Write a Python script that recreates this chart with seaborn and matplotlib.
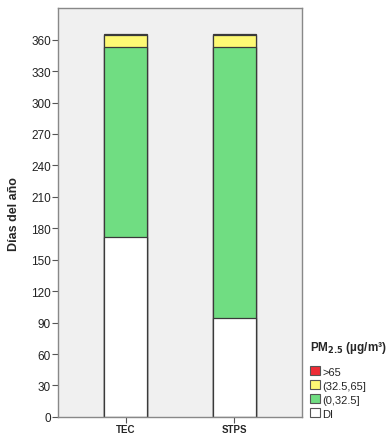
import matplotlib
matplotlib.use("Agg")
import matplotlib.pyplot as plt
import matplotlib.patches as mpatches
import numpy as np
import pandas as pd
import seaborn as sns

stations = ["TEC", "STPS"]
categories = ["DI", "(0,32.5]", "(32.5,65]", ">65"]
di = [172, 94]
low = [181, 259]
mid = [11, 11]
high = [1, 1]
colors = {"DI": "#ffffff", "(0,32.5]": "#70dd82", "(32.5,65]": "#fdf974", ">65": "#ee2c36"}

sns.set_style("white")
plt.rcParams["font.family"] = ["Liberation Sans", "DejaVu Sans"]

layers = np.array([di, low, mid, high])
tops = np.cumsum(layers, axis=0)

fig = plt.figure(figsize=(3.92, 4.39), dpi=100)
ax = fig.add_axes([0.148, 0.048, 0.622, 0.931])
ax.set_facecolor("#f0f0f0")

# draw from the tallest layer down so each one covers the one above
for i in reversed(range(len(categories))):
    df = pd.DataFrame({"station": stations, "days": tops[i]})
    sns.barplot(data=df, x="station", y="days", color=colors[categories[i]],
                width=0.4, edgecolor="#3a3a3a", linewidth=0.9, saturation=1,
                ax=ax, errorbar=None)

ax.set_ylim(0, 390)
ax.set_xlim(-0.62, 1.62)
ax.set_yticks(range(0, 361, 30))
ax.set_xlabel("")
ax.set_ylabel("Días del año", fontsize=9, fontweight="bold", labelpad=8)
ax.tick_params(axis="y", left=True, length=4, width=0.8, color="#555555",
               labelsize=8.5, pad=1, labelcolor="#222222")
ax.tick_params(axis="x", bottom=True, length=4, width=0.8, color="#555555",
               labelsize=7, pad=1)
for lab in ax.get_xticklabels():
    lab.set_fontweight("bold")
for s in ax.spines.values():
    s.set_color("#888888")
    s.set_linewidth(1.0)

handles = [mpatches.Patch(facecolor=colors[c], edgecolor="#555555", linewidth=0.8, label=c)
           for c in reversed(categories)]
leg = fig.legend(handles=handles, title=r"PM$_{\bf 2.5}$ (µg/m³)", loc="upper left",
                 bbox_to_anchor=(0.772, 0.243), frameon=False, fontsize=8,
                 handlelength=0.9, handleheight=0.9, handletextpad=0.2,
                 labelspacing=0.32, borderpad=0.2)
leg.get_title().set_fontweight("bold")
leg.get_title().set_fontsize(8.5)
leg._legend_box.align = "left"
leg._legend_box.sep = 8

fig.savefig("out.png", dpi=100)
